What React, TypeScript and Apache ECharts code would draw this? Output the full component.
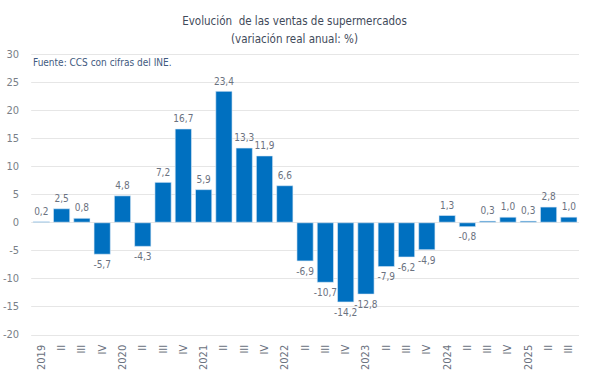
import React, { useEffect, useRef } from "react";
import * as echarts from "echarts";

const categories = [
  "2019", "II", "III", "IV",
  "2020", "II", "III", "IV",
  "2021", "II", "III", "IV",
  "2022", "II", "III", "IV",
  "2023", "II", "III", "IV",
  "2024", "II", "III", "IV",
  "2025", "II", "III",
];

const values = [
  0.2, 2.5, 0.8, -5.7,
  4.8, -4.3, 7.2, 16.7,
  5.9, 23.4, 13.3, 11.9,
  6.6, -6.9, -10.7, -14.2,
  -12.8, -7.9, -6.2, -4.9,
  1.3, -0.8, 0.3, 1.0,
  0.3, 2.8, 1.0,
];

const title = "Evolución  de las ventas de supermercados";
const subtitle = "(variación real anual: %)";
const source = "Fuente: CCS con cifras del INE.";

const FONT = "'DejaVu Sans Condensed', 'Liberation Sans Narrow', sans-serif";

export default function App() {
  const ref = useRef<HTMLDivElement>(null);
  useEffect(() => {
    document.body.style.margin = "0";
    const chart = echarts.init(ref.current!, null, { renderer: "svg" });
    chart.setOption({
      animation: false,
      backgroundColor: "#ffffff",
      title: [
        {
          text: title,
          left: "center",
          top: 10,
          textStyle: { fontFamily: FONT, fontSize: 11.5, fontWeight: "normal", color: "#3f4a5a" },
        },
        {
          text: subtitle,
          left: "center",
          top: 28,
          textStyle: { fontFamily: FONT, fontSize: 11.5, fontWeight: "normal", color: "#3f4a5a" },
        },
      ],
      graphic: [
        {
          type: "text",
          left: 33,
          top: 57,
          style: { text: source, fontFamily: FONT, fontSize: 10, fill: "#3f5a80" },
        },
      ],
      grid: { left: 29, right: 10, top: 54, bottom: 36 },
      xAxis: {
        type: "category",
        data: categories,
        axisLine: { show: false },
        axisTick: { show: false },
        axisLabel: {
          rotate: 90,
          interval: 0,
          fontFamily: FONT,
          fontSize: 11,
          color: "#6b7280",
          margin: 10,
        },
      },
      yAxis: {
        type: "value",
        min: -20,
        max: 30,
        interval: 5,
        axisLine: { show: false },
        axisTick: { show: false },
        splitLine: { lineStyle: { color: "#e6e6e6", width: 1 } },
        axisLabel: { fontFamily: FONT, fontSize: 11, color: "#7a7f88", margin: 12 },
      },
      series: [
        {
          type: "bar",
          data: values.map((v) => ({
            value: v,
            label: { position: v < 0 ? "bottom" : "top" },
          })),
          barCategoryGap: "17%",
          itemStyle: { color: "#0070c0", borderColor: "#dbe9f6", borderWidth: 0.6 },
          label: {
            show: true,
            fontFamily: FONT,
            fontSize: 10,
            color: "#6b7280",
            distance: 5,
            formatter: (p: any) => Number(p.value).toFixed(1).replace(".", ","),
          },
        },
      ],
    });
    return () => chart.dispose();
  }, []);
  return <div ref={ref} style={{ width: 589, height: 373 }} />;
}
